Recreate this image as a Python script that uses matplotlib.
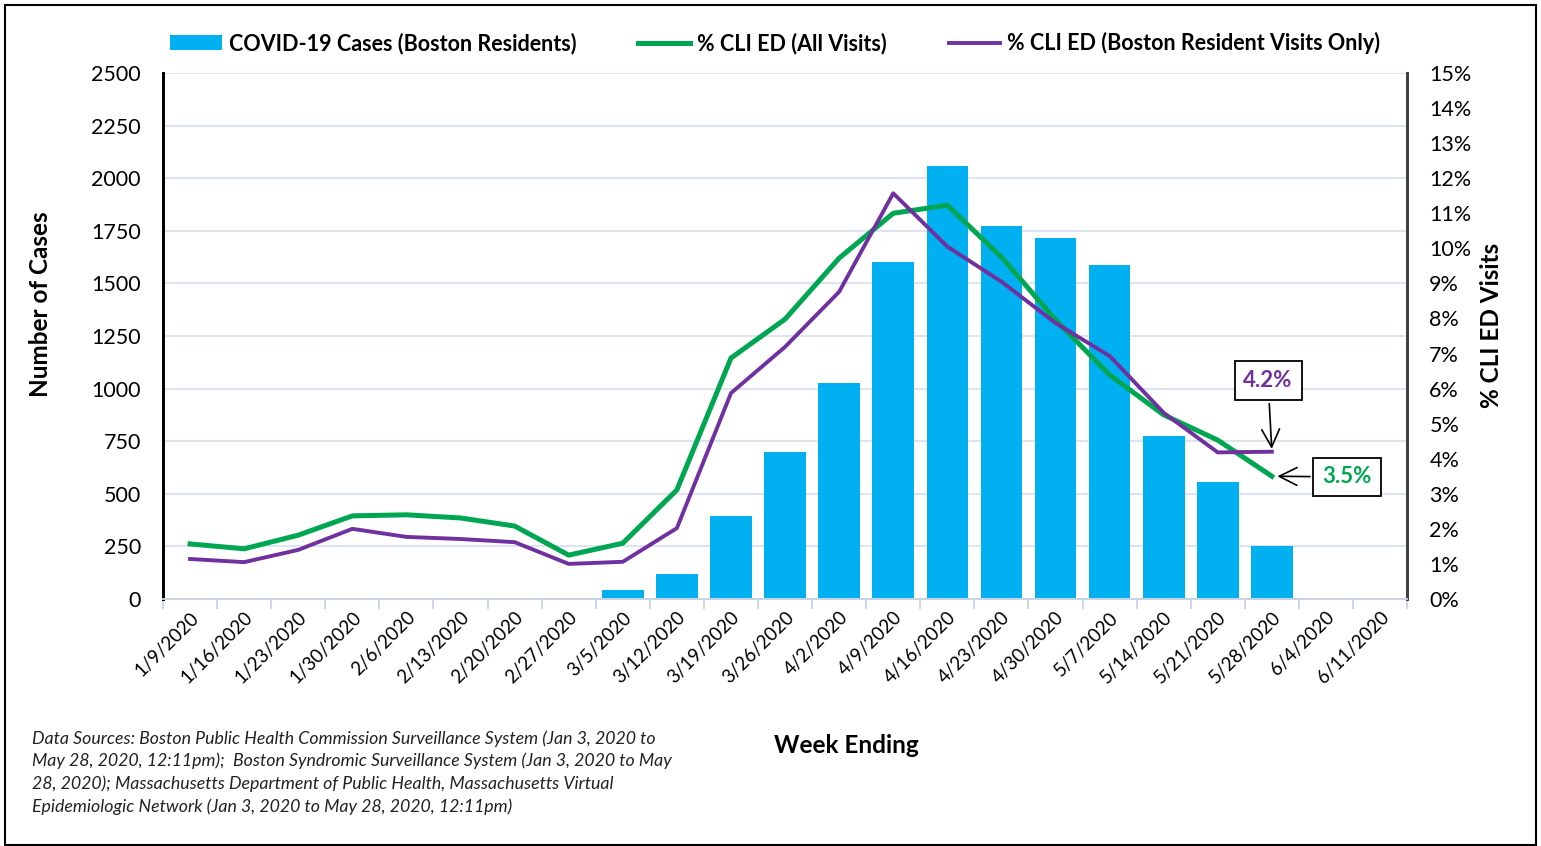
import matplotlib.pyplot as plt
import matplotlib.patches as mpatches
import numpy as np

plt.rcParams['font.family'] = ['Lato', 'DejaVu Sans']

# data
weeks = ['1/9/2020', '1/16/2020', '1/23/2020', '1/30/2020', '2/6/2020', '2/13/2020',
         '2/20/2020', '2/27/2020', '3/5/2020', '3/12/2020', '3/19/2020', '3/26/2020',
         '4/2/2020', '4/9/2020', '4/16/2020', '4/23/2020', '4/30/2020', '5/7/2020',
         '5/14/2020', '5/21/2020', '5/28/2020', '6/4/2020', '6/11/2020']
cases = [0, 0, 0, 0, 0, 0, 0, 3, 43, 119, 395, 699, 1027, 1602, 2058, 1773, 1716,
         1587, 775, 556, 252, 0, 0]
cli_all = [1.57, 1.43, 1.82, 2.37, 2.40, 2.31, 2.08, 1.25, 1.59, 3.11, 6.87, 7.98,
           9.72, 11.0, 11.23, 9.75, 7.96, 6.39, 5.25, 4.53, 3.5]
cli_boston = [1.14, 1.05, 1.40, 2.0, 1.77, 1.71, 1.62, 1.0, 1.06, 2.02, 5.87, 7.19,
              8.76, 11.57, 10.05, 9.05, 7.87, 6.93, 5.31, 4.18, 4.2]

blue = '#00B0F0'
green = '#00A651'
purple = '#7030A0'
gridc = '#D9E2F3'

fig = plt.figure(figsize=(15.41, 8.46), dpi=100)
ax = fig.add_axes([0.1058, 0.292, 0.8073, 0.6217])
ax2 = ax.twinx()

x = np.arange(len(weeks))
bars = ax.bar(x, cases, width=0.77, color=blue, label='COVID-19 Cases (Boston Residents)', zorder=2)
ax.set_xlim(-0.5, len(weeks) - 0.5)
ax.set_ylim(0, 2500)
ax.set_yticks(np.arange(0, 2501, 250))
ax.yaxis.grid(True, color=gridc, lw=1.3, zorder=0)
ax.set_axisbelow(True)

xl = np.arange(len(cli_all))
l1, = ax2.plot(xl, cli_all, color=green, lw=3.6, label='% CLI ED (All Visits)', zorder=3)
l2, = ax2.plot(xl, cli_boston, color=purple, lw=2.8,
               label='% CLI ED (Boston Resident Visits Only)', zorder=4)
ax2.set_ylim(0, 15)
ax2.set_yticks(np.arange(0, 16, 1))
ax2.set_yticklabels(['%d%%' % v for v in range(16)])

ax.set_xticks(x)
ax.set_xticklabels(weeks, rotation=45, ha='right', rotation_mode='anchor', fontsize=13.5)
ax.set_xticks(np.arange(-0.5, len(weeks), 1), minor=True)
ax.tick_params(axis='x', which='major', length=0, pad=7)
ax.tick_params(axis='x', which='minor', length=7, color='#C9D3E6', width=1.3)
ax.tick_params(axis='y', length=0, labelsize=15.5, pad=16)
ax2.tick_params(axis='y', length=0, labelsize=15.5, pad=16)

for a in (ax, ax2):
    a.spines['top'].set_visible(False)
    a.spines['bottom'].set_color('#C9D3E6')
    a.spines['bottom'].set_linewidth(1.3)
    a.spines['left'].set_color('black')
    a.spines['left'].set_linewidth(2)
    a.spines['right'].set_color('#404040')
    a.spines['right'].set_linewidth(2)

ax.set_ylabel('Number of Cases', fontsize=17.5, fontweight='bold')
ax.yaxis.set_label_coords(-0.089, 0.56)
ax2.set_ylabel('% CLI ED Visits', fontsize=17.5, fontweight='bold', rotation=90)
ax2.yaxis.set_label_coords(1.059, 0.52)
fig.text(0.549, 0.119, 'Week Ending', fontsize=17.5, fontweight='bold', ha='center', va='center')

# callouts
box = dict(boxstyle='square,pad=0.4', fc='white', ec='black', lw=1.3)
arr = dict(arrowstyle='->,head_length=0.8,head_width=0.4', color='black', lw=1.2)
ax2.annotate('4.2%', xy=(20, 4.2), xytext=(19.93, 6.22), fontsize=16, fontweight='bold',
             color=purple, ha='center', va='center', bbox=box, arrowprops=arr, zorder=6)
ax2.annotate('3.5%', xy=(20.05, 3.5), xytext=(21.39, 3.48), fontsize=16, fontweight='bold',
             color=green, ha='center', va='center', bbox=box, arrowprops=arr, zorder=6)

fig.legend(handles=[bars, l1, l2], loc='center', bbox_to_anchor=(0.503, 0.949), ncol=3,
           frameon=False, prop={'weight': 'bold', 'size': 15.5},
           handlelength=2.4, handletextpad=0.3, columnspacing=2.9)

note = ('Data Sources: Boston Public Health Commission Surveillance System (Jan 3, 2020 to\n'
        'May 28, 2020, 12:11pm);  Boston Syndromic Surveillance System (Jan 3, 2020 to May\n'
        '28, 2020); Massachusetts Department of Public Health, Massachusetts Virtual\n'
        'Epidemiologic Network (Jan 3, 2020 to May 28, 2020, 12:11pm)')
fig.text(0.0208, 0.137, note, fontsize=12.8, style='italic', ha='left', va='top',
         linespacing=1.45, color='#222222')

fig.patches.append(mpatches.Rectangle((0.0032, 0.0012), 0.9935, 0.9929, transform=fig.transFigure,
                                      fill=False, ec='black', lw=1.5))

fig.savefig('out.png', dpi=100)
